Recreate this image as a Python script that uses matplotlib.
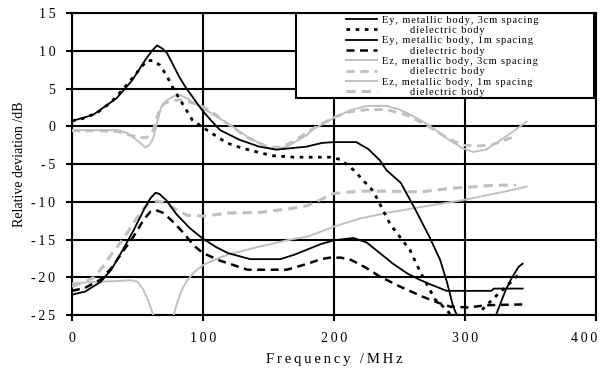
import matplotlib
matplotlib.use('Agg')
import matplotlib.pyplot as plt
import matplotlib.transforms as mtransforms
from matplotlib.patches import Rectangle
import numpy as np

plt.rcParams['font.family'] = ['Liberation Serif', 'DejaVu Serif']

nan = np.nan

# Ey, metallic body, 3cm spacing
ey_m3_f = [0, 16, 34, 46, 56, 61, 65, 69, 72.5, 77, 82, 87, 92, 99, 106, 113, 128, 143, 156, 179,
           191, 200, 217, 226, 235, 240, 251, 262, 273, 281, 286, 291, 295,
           300, 318, 323, 327, 331, 336, 341, 344]
ey_m3_v = [0.7, 1.5, 3.7, 6.1, 8.8, 10.0, 10.7, 10.3, 9.7, 8.2, 6.5, 5.1, 3.9, 2.2, 0.8, -0.5, -1.8, -2.7, -3.1, -2.7,
           -2.2, -2.1, -2.1, -3.0, -4.5, -5.8, -7.5, -11.0, -14.7, -17.7, -20.5, -23.9, -25.5,
           nan, nan, -25.3, -23.5, -21.7, -20.0, -18.6, -18.2]

# Ey, dielectric body, 3cm spacing
ey_d3_f = [0, 10, 20, 30, 40, 50, 57, 62, 67, 72, 77, 85, 92, 103, 118, 130, 143.5, 153, 170, 197,
           205, 215, 230, 243, 258, 265, 277, 286, 290, 300, 310, 313, 323, 334, 343]
ey_d3_v = [0.7, 1.1, 1.9, 3.2, 5.1, 7.2, 8.7, 8.7, 8.1, 6.8, 5.1, 2.8, 0.8, -0.5, -2.2, -2.9, -3.5, -3.9, -4.1, -4.1,
           -4.4, -5.8, -8.6, -13.0, -16.4, -19.0, -22.9, -24.3, -25.2, nan, nan, -24.3, -22.6, -20.8, -19.3]

# Ey, metallic body, 1m spacing
ey_m1_f = [0, 10, 22, 30, 37, 47, 55, 60, 64, 67, 72, 80, 90, 100, 110, 119, 136, 159, 170, 180,
           190, 200, 215, 225, 235, 245, 256, 265, 273, 286, 320, 322, 344]
ey_m1_v = [-22.3, -21.9, -20.6, -19.0, -16.9, -13.8, -11.0, -9.5, -8.8, -9.0, -9.8, -11.7, -13.5, -14.9, -16.0,
           -16.8, -17.6, -17.6, -17.0, -16.3, -15.6, -15.1, -14.8, -15.4, -16.8, -18.2, -19.5, -20.3, -20.9,
           -21.8, -21.8, -21.5, -21.5]

# Ey, dielectric body, 1m spacing
ey_d1_f = [0, 10, 22, 30, 40, 47, 55, 60, 64, 70, 78, 86, 93, 100, 113, 134, 164, 180, 190, 197,
           205, 213, 224, 235, 250, 268, 280, 289, 303, 316, 344]
ey_d1_v = [-21.8, -21.4, -20.3, -18.8, -16.3, -14.6, -12.3, -11.3, -11.1, -11.5, -12.8, -14.3, -15.8, -16.8,
           -17.8, -19.0, -19.0, -18.2, -17.6, -17.4, -17.4, -17.7, -18.7, -19.9, -21.2, -22.6, -23.4, -23.9,
           -24.0, -23.7, -23.6]

# Ez, metallic body, 3cm spacing
ez_m3_f = [0, 20, 35, 42, 47, 52, 56, 59, 62, 65, 68, 72, 78, 83, 88, 93, 100, 110, 119, 134, 149,
           158, 165, 179, 184, 200, 212, 225, 240, 250, 260, 273, 286, 298, 306, 316, 331, 347]
ez_m3_v = [-0.5, -0.5, -0.5, -0.9, -1.5, -2.2, -2.8, -2.5, -1.6, 0.5, 2.5, 3.4, 4.0, 4.1, 3.7, 3.1, 2.4,
           1.3, 0.4, -1.4, -2.8, -3.0, -2.6, -1.2, -0.4, 1.1, 2.1, 2.7, 2.7, 2.2, 1.4, 0.1, -1.6, -2.9,
           -3.4, -3.1, -1.4, 0.6]

# Ez, dielectric body, 3cm spacing
ez_d3_f = [0, 20, 35, 45, 52, 57, 62, 66, 70, 76, 82, 90, 100, 110, 119, 134, 149, 160, 170, 184,
           200, 212, 225, 240, 255, 270, 286, 298, 310, 320, 331, 340]
ez_d3_v = [-0.6, -0.6, -0.7, -1.2, -1.5, -1.5, -0.5, 1.8, 3.0, 3.4, 3.5, 3.2, 2.6, 1.5, 0.3, -1.5, -2.7,
           -2.8, -1.9, -0.3, 1.2, 1.9, 2.2, 2.2, 1.5, 0.2, -1.5, -2.5, -2.6, -2.5, -1.8, -1.2]

# Ez, metallic body, 1m spacing
ez_m1_f = [0, 20, 35, 45, 50, 54, 58, 61, 63, 70, 77, 80, 84, 88, 94, 100, 110, 119, 144, 167, 180,
           200, 220, 243, 266, 298, 329, 347]
ez_m1_v = [-20.8, -20.6, -20.5, -20.4, -20.6, -21.5, -23.0, -24.5, -25.5, nan, -25.5, -23.5, -21.6, -20.4,
           -19.2, -18.4, -17.6, -17.0, -15.9, -15.0, -14.6, -13.3, -12.2, -11.4, -10.7, -9.8, -8.7, -8.0]

# Ez, dielectric body, 1m spacing
ez_d1_f = [0, 10, 17, 24, 30, 37, 43, 50, 55, 60, 65, 70, 75, 88, 101, 119, 144, 167, 180, 200, 220,
           243, 266, 290, 324, 339]
ez_d1_v = [-21.2, -20.6, -20.0, -18.5, -17.0, -15.4, -13.9, -12.0, -10.8, -10.1, -9.9, -10.1, -10.6,
           -11.8, -11.9, -11.5, -11.4, -10.9, -10.5, -8.9, -8.6, -8.6, -8.7, -8.2, -7.8, -7.8]

labels = ['Ey, metallic body, 3cm spacing', '        dielectric body',
          'Ey, metallic body, 1m spacing', '        dielectric body',
          'Ez, metallic body, 3cm spacing', '        dielectric body',
          'Ez, metallic body, 1m spacing', '        dielectric body']

x_ticks = [0, 100, 200, 300, 400]
y_ticks = [-25, -20, -15, -10, -5, 0, 5, 10, 15]


def spaced(s, sp='\u2009'):
    # the original uses wide letter spacing
    return sp.join(s)


gray = '#c0c0c0'

fig = plt.figure(figsize=(6.06, 3.72), dpi=100)
ax = fig.add_axes([0.1188, 0.1532, 0.8647, 0.8118])

ax.plot(ez_m3_f, ez_m3_v, color=gray, lw=1.4, zorder=3)
ax.plot(ez_d3_f, ez_d3_v, color=gray, lw=2.0, dashes=(3, 2), zorder=3)
ax.plot(ez_m1_f, ez_m1_v, color=gray, lw=1.4, zorder=3)
ax.plot(ez_d1_f, ez_d1_v, color=gray, lw=2.2, dashes=(3, 2), zorder=3)
ax.plot(ey_m3_f, ey_m3_v, color='black', lw=1.3, zorder=4)
ax.plot(ey_d3_f, ey_d3_v, color='black', lw=2.0, dashes=(1.3, 2.0), zorder=4)
ax.plot(ey_m1_f, ey_m1_v, color='black', lw=1.3, zorder=4)
ax.plot(ey_d1_f, ey_d1_v, color='black', lw=1.8, dashes=(3.2, 2.2), zorder=4)
lines = ax.get_lines()
order = [4, 5, 6, 7, 0, 1, 2, 3]

ax.set_xlim(0, 400)
ax.set_ylim(-25, 15)
ax.set_xticks(x_ticks)
ax.set_xticklabels([spaced(str(t)) for t in x_ticks])
ax.set_yticks(y_ticks)
ax.set_yticklabels([spaced(str(t)) for t in y_ticks])
ax.grid(True, color='black', lw=1.5)
ax.set_axisbelow(True)
for s in ax.spines.values():
    s.set_linewidth(1.5)
ax.tick_params(direction='out', length=4, width=1.5, labelsize=10, pad=8)
ax.set_xlabel(spaced('Frequency /MHz'), fontsize=10.5, labelpad=6)
ax.set_ylabel('Relative deviation /dB', fontsize=10, labelpad=4)

# last x label sits a little left so it stays inside the figure
last = ax.get_xticklabels()[-1]
last.set_transform(last.get_transform() + mtransforms.ScaledTranslation(-12 / 100, 0, fig.dpi_scale_trans))

# legend box
ax.add_patch(Rectangle((0.427, 0.718), 0.569, 0.282, transform=ax.transAxes,
                       facecolor='white', edgecolor='black', lw=1.5, zorder=10))
leg = ax.legend([lines[i] for i in order], [spaced(l, '\u200a') for l in labels],
                loc='center', bbox_to_anchor=(0.707, 0.857), frameon=False,
                fontsize=7.5, labelspacing=0.1, handlelength=3.0, handletextpad=0.5,
                borderpad=0.1)
leg.set_zorder(11)

fig.savefig('out.png', dpi=100)
